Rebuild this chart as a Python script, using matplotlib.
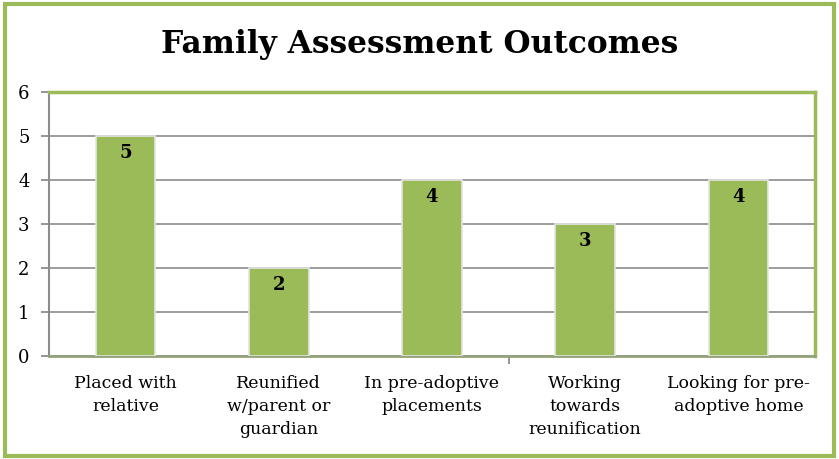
import matplotlib.pyplot as plt
from matplotlib import patches

categories = ["Placed with\nrelative", "Reunified\nw/parent or\nguardian",
              "In pre-adoptive\nplacements", "Working\ntowards\nreunification",
              "Looking for pre-\nadoptive home"]
counts = [5, 2, 4, 3, 4]

green = '#9BBB59'
grid = '#8C8C8C'
plt.rcParams['font.family'] = ['DejaVu Serif']

fig = plt.figure(figsize=(8.39, 4.59), dpi=100)
ax = fig.add_axes([49/839, 1 - 356/459, (815-49)/839, (356-92)/459])

x = list(range(len(counts)))
bars = ax.bar(x, counts, width=0.39, color=green, edgecolor='#E4E4E4', linewidth=1.2, zorder=3)
for xi, v in zip(x, counts):
    ax.text(xi, v - 0.38, str(v), ha='center', va='center', fontsize=13,
            fontweight='bold', zorder=4)

ax.set_xlim(-0.5, len(counts) - 0.5)
ax.set_ylim(0, 6)
ax.set_yticks(range(7))
ax.yaxis.grid(True, color=grid, linewidth=1.2, zorder=0)
ax.tick_params(axis='y', length=6, color=grid, width=1.3, labelsize=13, pad=8)

ax.set_xticks(x)
ax.set_xticklabels(categories, fontsize=12.5, linespacing=1.45)
ax.set_xticks([2.5], minor=True)
ax.tick_params(axis='x', which='major', length=0, pad=14)
ax.tick_params(axis='x', which='minor', length=6, color=grid, width=1.3)

for s in ['top', 'right']:
    ax.spines[s].set_color(green)
    ax.spines[s].set_linewidth(2.5)
ax.spines['left'].set_color(grid)
ax.spines['left'].set_linewidth(1.5)
ax.spines['bottom'].set_color('#93A27A')
ax.spines['bottom'].set_linewidth(2)

fig.text(0.5, 1 - 45/459, "Family Assessment Outcomes", ha='center', va='center',
         fontsize=22.5, fontweight='bold')

fig.patches.append(patches.Rectangle((5/839, 3/459), 829/839, 452/459, transform=fig.transFigure,
                                     fill=False, edgecolor=green, linewidth=3))

fig.savefig("out.png", dpi=100)
